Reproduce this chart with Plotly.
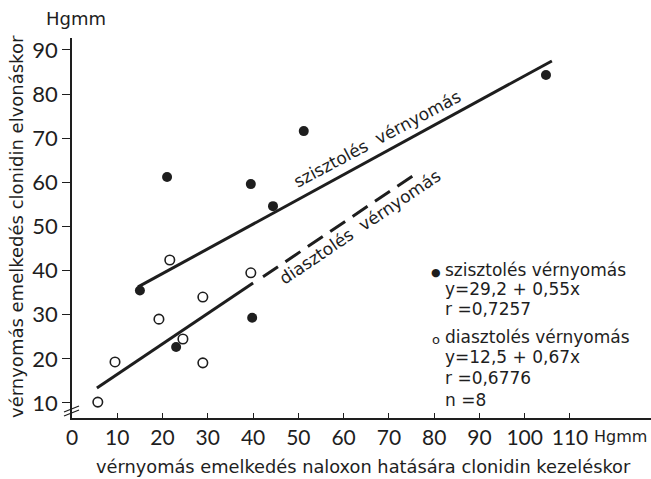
import plotly.graph_objects as go

# ---- data ----
sys_x = [15.0, 21.0, 23.0, 39.5, 39.8, 44.4, 51.2, 104.7]
sys_y = [35.5, 61.2, 22.7, 59.6, 29.3, 54.6, 71.6, 84.3]

dia_x = [5.7, 9.5, 19.2, 21.6, 24.5, 28.9, 28.9, 39.5]
dia_y = [10.2, 19.3, 29.0, 42.4, 24.5, 34.0, 19.1, 39.5]

sys_line_x = [14.6, 106.0]
sys_line_y = [36.3, 87.5]
dia_solid_x = [5.5, 40.0]
dia_solid_y = [13.4, 37.2]
dia_dash_x = [42.2, 76.2]
dia_dash_y = [38.6, 62.1]

x_ticks = [0, 10, 20, 30, 40, 50, 60, 70, 80, 90, 100, 110]
y_ticks = [10, 20, 30, 40, 50, 60, 70, 80, 90]

legend_lines = [
    "szisztolés vérnyomás",
    "y=29,2 + 0,55x",
    "r =0,7257",
    "diasztolés vérnyomás",
    "y=12,5 + 0,67x",
    "r =0,6776",
    "n =8",
]

INK = "#1e1e1e"
FONT = "DejaVu Sans"
TICKFONT = "Lato"

W, H = 651, 479
L, R, T, B = 72, 0, 38, 61
XR = [0, 127.9]
YR = [6.6, 92.7]


def px(xp):
    return (xp - L) / (W - L - R)


def py(yp):
    return (H - B - yp) / (H - B - T)


fig = go.Figure()

line_style = dict(color=INK, width=3)
fig.add_trace(go.Scatter(x=sys_line_x, y=sys_line_y, mode="lines", line=line_style, hoverinfo="skip"))
fig.add_trace(go.Scatter(x=dia_solid_x, y=dia_solid_y, mode="lines", line=line_style, hoverinfo="skip"))
fig.add_trace(go.Scatter(x=dia_dash_x, y=dia_dash_y, mode="lines",
                         line=dict(color=INK, width=3, dash="18px,9px"), hoverinfo="skip"))

fig.add_trace(go.Scatter(x=sys_x, y=sys_y, mode="markers",
                         marker=dict(size=10, color=INK, line=dict(width=0))))
fig.add_trace(go.Scatter(x=dia_x, y=dia_y, mode="markers",
                         marker=dict(size=9.5, color="white", symbol="circle",
                                     line=dict(width=1.6, color=INK))))


def note(xp, yp, text, size, angle=0, xanchor="center", family=FONT):
    return dict(x=px(xp), y=py(yp), xref="paper", yref="paper", text=text, showarrow=False,
                xanchor=xanchor, yanchor="middle", textangle=angle,
                font=dict(size=size, family=family, color=INK))


ann = []
ann.append(note(76, 18, "Hgmm", 18))
ann.append(note(649, 436, "Hgmm", 16, xanchor="right"))
ann.append(note(363, 466, "vérnyomás emelkedés naloxon hatására clonidin kezeléskor", 17.8))
ann.append(note(16, 227, "vérnyomás emelkedés clonidin elvonáskor", 18, angle=-90))
ann.append(note(377, 139, "szisztolés  vérnyomás", 17, angle=-28))
ann.append(note(360, 227, "diasztolés  vérnyomás", 17, angle=-34))
ys = [270, 289, 309, 337, 357, 378, 400]
for t, yy in zip(legend_lines, ys):
    ann.append(note(443, yy, t, 17, xanchor="left"))
ann.append(note(436, 272, "●", 11))
ann.append(note(436, 339, "o", 13))

shapes = []
for dy in (0, 4):
    shapes.append(dict(type="line", xref="paper", yref="paper",
                       x0=px(64), y0=py(412 + dy), x1=px(79), y1=py(406 + dy),
                       line=dict(color=INK, width=1.3)))

fig.update_layout(
    width=W, height=H,
    margin=dict(l=L, r=R, t=T, b=B),
    paper_bgcolor="white", plot_bgcolor="white",
    showlegend=False,
    annotations=ann,
    shapes=shapes,
    font=dict(family=FONT, color=INK),
)
fig.update_xaxes(range=XR, tickvals=x_ticks, ticktext=[str(v) for v in x_ticks],
                 showgrid=False, zeroline=False, showline=True, linecolor=INK, linewidth=1.5,
                 ticks="inside", ticklen=5, tickwidth=1, tickcolor=INK,
                 tickfont=dict(size=21, family=TICKFONT, color=INK))
fig.update_yaxes(range=YR, tickvals=y_ticks, ticktext=[str(v) for v in y_ticks],
                 showgrid=False, zeroline=False, showline=True, linecolor=INK, linewidth=1.5,
                 ticks="outside", ticklen=8, tickwidth=1, tickcolor=INK,
                 tickfont=dict(size=22, family=TICKFONT, color=INK))

fig.write_html("out.html")
